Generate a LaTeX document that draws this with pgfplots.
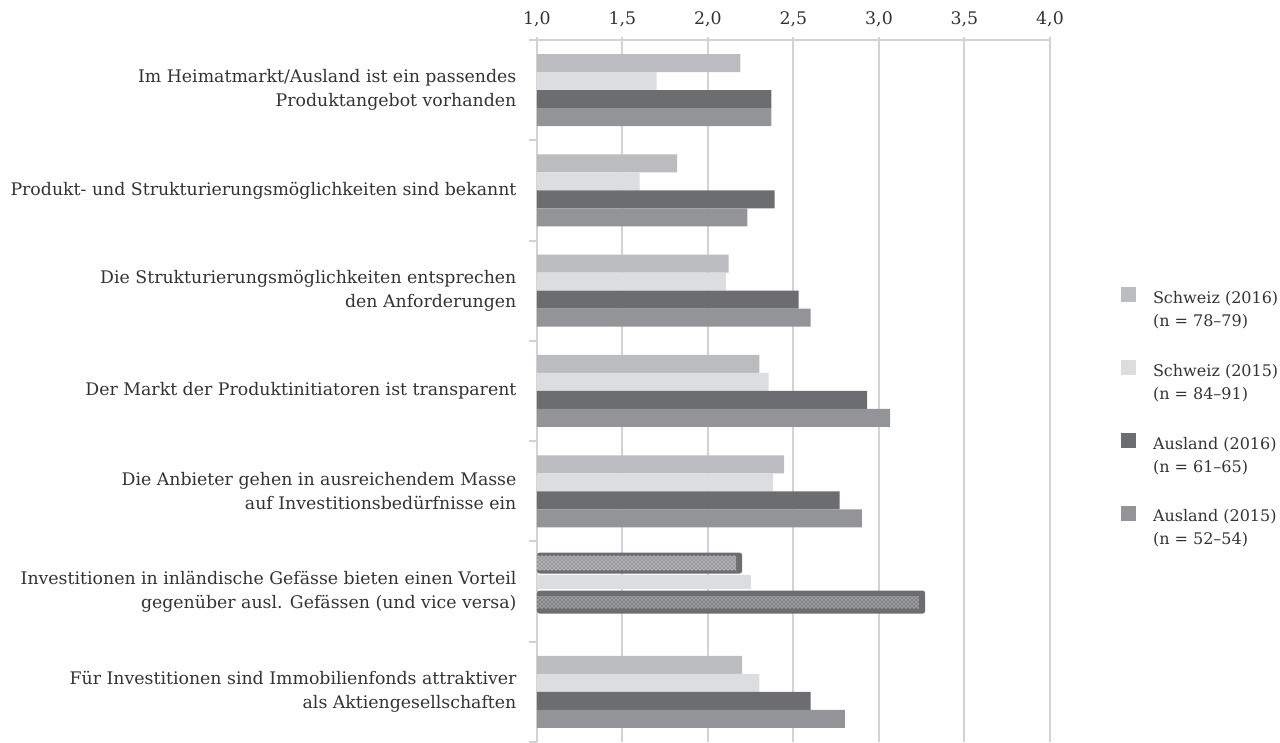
\documentclass[border=0pt]{standalone}
\usepackage{pgfplots}
\pgfplotsset{compat=1.18}
\usetikzlibrary{patterns}
\usepackage{fontspec}
\setmainfont{DejaVu Serif}
\definecolor{sA}{HTML}{BBBCBF}
\definecolor{sB}{HTML}{DCDDDF}
\definecolor{aA}{HTML}{6C6D71}
\definecolor{aB}{HTML}{939497}
\definecolor{gridc}{HTML}{D3D3D3}
\definecolor{txt}{HTML}{333333}
\pgfplotsset{
  mybar/.style={xbar, bar width=13.5pt, draw=none,
    legend image code/.code={\fill[##1] (0pt,1pt) rectangle (11.25pt,-10.25pt);}},
}
\begin{document}
\begin{tikzpicture}
\useasboundingbox (-402.75pt,0pt) rectangle (557.25pt,556.5pt);
\begin{axis}[
  at={(0pt,0pt)}, anchor=south west,
  scale only axis, width=384.75pt, height=526.5pt,
  xmin=1, xmax=4, ymin=-0.5, ymax=6.5,
  axis x line=top, axis y line=left,
  axis line style={draw=gridc, line width=1.5pt, -},
  xtick={1,1.5,2,2.5,3,3.5,4},
  xticklabel={\pgfmathprintnumber[fixed,fixed zerofill,precision=1,use comma,assume math mode=true]{\tick}},
  xticklabel style={font=\fontsize{13}{15}\selectfont, text=txt, inner sep=0pt, yshift=7.5pt},
  xmajorgrids, major grid style={draw=gridc, line width=1.5pt},
  tick align=outside,
  major tick length=2.25pt,
  minor tick length=6pt,
  major x tick style={draw=gridc, line width=1.5pt},
  major y tick style={draw=none},
  minor y tick style={draw=gridc, line width=1.5pt},
  ytick={0,1,2,3,4,5,6},
  minor ytick={-0.5,0.5,1.5,2.5,3.5,4.5,5.5,6.5},
  yticklabels={
    {Für Investitionen sind Immobilienfonds attraktiver\\als Aktiengesellschaften},
    {Investitionen in inländische Gefässe bieten einen Vorteil\\gegenüber ausl. Gefässen (und vice versa)},
    {Die Anbieter gehen in ausreichendem Masse\\auf Investitionsbedürfnisse ein},
    {Der Markt der Produktinitiatoren ist transparent},
    {Die Strukturierungsmöglichkeiten entsprechen\\den Anforderungen},
    {Produkt- und Strukturierungsmöglichkeiten sind bekannt},
    {Im Heimatmarkt/Ausland ist ein passendes\\Produktangebot vorhanden}},
  yticklabel style={font=\fontsize{13}{18}\selectfont, text=txt, align=right, inner sep=0pt, xshift=-13pt},
  legend style={at={(rel axis cs:1.1378,0.648)}, anchor=north west, draw=none, fill=none,
    inner sep=0pt, outer sep=0pt, row sep=21.8pt, column sep=11pt,
    font=\fontsize{12}{17.25}\selectfont, text=txt,
    cells={anchor=north west, align=left, inner sep=0pt}},
]
% Schweiz (2016)
\addplot[mybar, fill=sA, bar shift=20.25pt] coordinates {(2.19,6) (1.82,5) (2.12,4) (2.30,3) (2.445,2) (2.20,0)};
\addlegendentry{Schweiz (2016)\\(n = 78–79)}
% Schweiz (2015)
\addplot[mybar, fill=sB, bar shift=6.75pt] coordinates {(1.70,6) (1.60,5) (2.105,4) (2.355,3) (2.38,2) (2.30,0)};
\addlegendentry{Schweiz (2015)\\(n = 84–91)}
% Ausland (2016)
\addplot[mybar, fill=aA, bar shift=-6.75pt] coordinates {(2.37,6) (2.39,5) (2.53,4) (2.93,3) (2.77,2) (2.60,0)};
\addlegendentry{Ausland (2016)\\(n = 61–65)}
% Ausland (2015)
\addplot[mybar, fill=aB, bar shift=-20.25pt] coordinates {(2.37,6) (2.23,5) (2.60,4) (3.065,3) (2.90,2) (2.80,0)};
\addlegendentry{Ausland (2015)\\(n = 52–54)}
% special row
\addplot[forget plot, xbar, draw=none, fill=aA, bar width=15.75pt, bar shift=21.4pt, rounded corners=2pt] coordinates {(2.20,1)};
\addplot[forget plot, xbar, draw=none, fill=aA!70, bar width=11pt, bar shift=21.4pt, postaction={pattern=crosshatch dots, pattern color=white}] coordinates {(2.165,1)};
\addplot[forget plot, xbar, draw=none, fill=sB, bar width=10.5pt, bar shift=7.5pt] coordinates {(2.25,1)};
\addplot[forget plot, xbar, draw=none, fill=aA, bar width=17.25pt, bar shift=-7.9pt, rounded corners=2pt] coordinates {(3.27,1)};
\addplot[forget plot, xbar, draw=none, fill=aA!85, bar width=9pt, bar shift=-7.9pt, postaction={pattern=crosshatch dots, pattern color=white!90!gray}] coordinates {(3.235,1)};
\end{axis}
\end{tikzpicture}
\end{document}
